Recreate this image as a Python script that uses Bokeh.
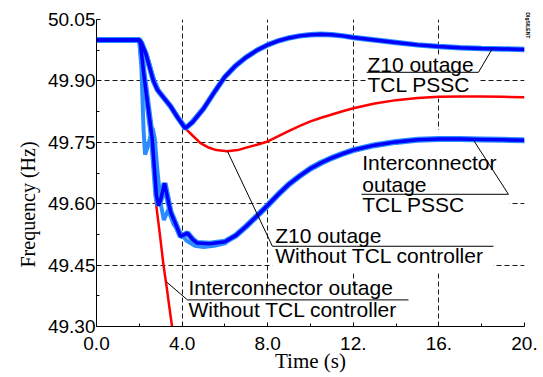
import math
from bokeh.plotting import figure
from bokeh.models import Label, FixedTicker, Range1d, Title
from bokeh.embed import file_html
from bokeh.resources import INLINE

# ---------------- data ----------------
# Z10 outage, TCL PSSC (dark blue)
t_z10_pssc = [0.0, 2.0, 2.1, 2.3, 2.5, 2.66, 2.85, 3.0, 3.46, 3.8, 4.15, 4.5, 5.0, 5.5, 6.0, 6.5,
              7.0, 7.5, 8.0, 8.5, 9.0, 9.5, 10.0, 10.5, 11.0, 11.5, 12.0, 13.0, 14.0, 15.0,
              16.0, 17.0, 18.0, 19.0, 20.0]
f_z10_pssc = [50.0, 50.0, 49.993, 49.967, 49.93, 49.90, 49.878, 49.868, 49.838, 49.81, 49.784,
              49.80, 49.832, 49.872, 49.91, 49.937, 49.958, 49.975, 49.988, 49.998, 50.005,
              50.010, 50.013, 50.014, 50.013, 50.010, 50.006, 50.0, 49.994, 49.988, 49.984,
              49.981, 49.979, 49.978, 49.977]

# Z10 outage, TCL PSSC (light blue trace)
t_z10_lb = [0.0, 2.0, 2.12, 2.35, 2.55, 2.72, 2.9, 3.1, 3.5, 3.85, 4.18, 4.5, 5.0]
f_z10_lb = [50.0, 50.0, 49.99, 49.962, 49.925, 49.897, 49.876, 49.862, 49.834, 49.808,
            49.785, 49.802, 49.833]

# Z10 outage, without TCL controller (red)
t_z10_no = [0.0, 2.0, 2.1, 2.3, 2.5, 2.66, 2.85, 3.0, 3.46, 3.8, 4.15, 4.5, 4.86, 5.2, 5.6,
            6.1, 6.6, 7.0, 7.5, 8.0, 8.5, 9.0, 9.5, 10.0, 10.5, 11.0, 11.5, 12.0, 13.0,
            14.0, 15.0, 16.0, 17.0, 18.0, 19.0, 20.0]
f_z10_no = [50.0, 50.0, 49.993, 49.967, 49.93, 49.90, 49.878, 49.868, 49.838, 49.81, 49.784,
            49.766, 49.748, 49.738, 49.731, 49.728, 49.731, 49.737, 49.744, 49.752, 49.765,
            49.778, 49.790, 49.801, 49.810, 49.818, 49.826, 49.833, 49.845, 49.853, 49.858,
            49.861, 49.862, 49.862, 49.861, 49.860]

# Interconnector outage, TCL PSSC (dark blue)
t_ic_pssc = [0.0, 2.0, 2.06, 2.2, 2.43, 2.6, 2.8, 2.9, 3.0, 3.18, 3.3, 3.46, 3.7, 3.93, 4.25,
             4.5, 4.7, 5.3, 6.0, 6.5, 7.0, 7.5, 8.0, 8.5, 9.0, 9.5, 10.0, 10.5, 11.0, 11.5,
             12.0, 13.0, 14.0, 15.0, 16.0, 17.0, 18.0, 19.0, 20.0]
f_ic_pssc = [50.0, 50.0, 49.99, 49.92, 49.828, 49.76, 49.62, 49.595, 49.61, 49.65, 49.62,
             49.58, 49.55, 49.52, 49.528, 49.512, 49.504, 49.502, 49.507, 49.522, 49.545,
             49.570, 49.596, 49.623, 49.648, 49.668, 49.686, 49.700, 49.712, 49.722, 49.731,
             49.743, 49.751, 49.756, 49.758, 49.758, 49.757, 49.756, 49.755]

# Interconnector outage, TCL PSSC (light blue trace)
t_ic_lb = [0.0, 2.0, 2.1, 2.2, 2.27, 2.4, 2.62, 2.72, 2.85, 3.0, 3.15, 3.35, 3.6, 3.9, 4.2,
           4.6, 5.0, 5.5, 6.0, 7.0, 8.0, 9.0]
f_ic_lb = [50.0, 50.0, 49.93, 49.78, 49.72, 49.74, 49.785, 49.76, 49.68, 49.60, 49.56,
           49.585, 49.55, 49.53, 49.51, 49.497, 49.494, 49.497, 49.503, 49.545, 49.594, 49.648]

# Interconnector outage, without TCL controller (red)
t_ic_no = [0.0, 2.0, 2.06, 2.2, 2.43, 2.6, 2.76, 2.95, 3.13, 3.27, 3.45, 3.6]
f_ic_no = [50.0, 50.0, 49.99, 49.92, 49.81, 49.72, 49.61, 49.53, 49.45, 49.40, 49.33, 49.275]

x_ticks = [0, 4, 8, 12, 16, 20]
x_tick_labels = ["0.0", "4.0", "8.0", "12.", "16.", "20."]
x_minor = [2, 6, 10, 14, 18]
y_ticks = [49.30, 49.45, 49.60, 49.75, 49.90, 50.05]
y_tick_labels = ["49.30", "49.45", "49.60", "49.75", "49.90", "50.05"]
y_minor = [49.375, 49.525, 49.675, 49.825, 49.975]

# ---------------- figure ----------------
p = figure(width=543, height=377, output_backend="svg", toolbar_location=None,
           x_range=Range1d(0, 20), y_range=Range1d(49.30, 50.05))
p.min_border_left = 96
p.min_border_right = 19
p.min_border_top = 19
p.min_border_bottom = 51
p.outline_line_color = None
p.background_fill_color = "white"
p.border_fill_color = "white"

p.xaxis.ticker = FixedTicker(ticks=x_ticks, minor_ticks=x_minor)
p.yaxis.ticker = FixedTicker(ticks=y_ticks, minor_ticks=y_minor)
p.xaxis.major_label_overrides = {t: s for t, s in zip(x_ticks, x_tick_labels)}
p.yaxis.major_label_overrides = {t: s for t, s in zip(y_ticks, y_tick_labels)}
for ax in (p.xaxis, p.yaxis):
    ax.axis_line_color = "black"
    ax.axis_line_width = 1
    ax.major_tick_in = 4
    ax.major_tick_out = 0
    ax.minor_tick_in = 3
    ax.minor_tick_out = 0
    ax.major_tick_line_color = "black"
    ax.minor_tick_line_color = "black"
    ax.major_label_text_font = "Liberation Sans"
    ax.major_label_text_font_size = "19px"
    ax.major_label_text_color = "black"
p.yaxis.major_label_standoff = 1
p.xaxis.major_label_standoff = 10

p.xaxis.axis_label = "Time (s)"
p.xaxis.axis_label_text_font = "Liberation Serif"
p.xaxis.axis_label_text_font_size = "21px"
p.xaxis.axis_label_text_font_style = "normal"
p.xaxis.axis_label_text_color = "black"
p.xaxis.axis_label_standoff = -4

ytitle = Title(text="Frequency (Hz)", align="left", offset=59, standoff=12,
               text_font="Liberation Serif", text_font_size="20px",
               text_font_style="normal", text_color="black")
p.add_layout(ytitle, "left")
logo = Title(text="DIgSILENT", align="left", offset=-7, standoff=0,
             text_font="Liberation Sans", text_font_size="5px",
             text_font_style="bold", text_color="black")
p.add_layout(logo, "right")

p.grid.grid_line_color = "black"
p.grid.grid_line_dash = "5 3"
p.grid.grid_line_width = 1
p.grid.grid_line_alpha = 0.9

# white boxes behind annotation texts (hide grid lines)
p.quad(left=[12.62, 12.25, 8.22, 4.25], right=[17.85, 19.3, 18.55, 14.58],
       top=[49.964, 49.78, 49.73, 49.40], bottom=[49.857, 49.56, 49.43, 49.295],
       fill_color="white", line_color=None)

# curves
p.line(t_ic_no, f_ic_no, line_color="#ff0000", line_width=2.5)
p.line(t_z10_no, f_z10_no, line_color="#ff0000", line_width=2.5)
p.line(t_ic_pssc, f_ic_pssc, line_color="#2b8cff", line_width=6)
p.line(t_z10_pssc, f_z10_pssc, line_color="#2b8cff", line_width=5.5)
p.line(t_ic_lb, f_ic_lb, line_color="#2b8cff", line_width=4)
p.line(t_z10_lb, f_z10_lb, line_color="#2b8cff", line_width=4.5)
p.line(t_ic_pssc, f_ic_pssc, line_color="#0000ff", line_width=3.5)
p.line(t_z10_pssc, f_z10_pssc, line_color="#0000ff", line_width=3.5)

# leader lines and underlines
p.line([12.62, 17.85, 18.5], [49.921, 49.921, 49.979], line_color="black", line_width=1)
p.line([12.38, 19.25, 17.62], [49.623, 49.623, 49.755], line_color="black", line_width=1)
p.line([6.12, 8.22, 18.55], [49.728, 49.496, 49.496], line_color="black", line_width=1)
p.line([3.27, 4.25, 14.58], [49.409, 49.365, 49.365], line_color="black", line_width=1)

def lab(x, y, text, **kw):
    d = dict(x=x, y=y, text=text, text_font="Liberation Sans", text_font_size="21px",
             text_color="black", text_align="left", text_baseline="alphabetic")
    d.update(kw)
    p.add_layout(Label(**d))

lab(12.66, 49.941, "Z10 outage")
lab(12.66, 49.890, "TCL PSSC")
lab(12.42, 49.700, "Interconnector")
lab(12.42, 49.648, "outage")
lab(12.42, 49.597, "TCL PSSC")
lab(8.35, 49.522, "Z10 outage")
lab(8.35, 49.473, "Without TCL controller")
lab(4.3, 49.395, "Interconnector outage")
lab(4.3, 49.341, "Without TCL controller")

open("out.html", "w").write(file_html(p, INLINE))
